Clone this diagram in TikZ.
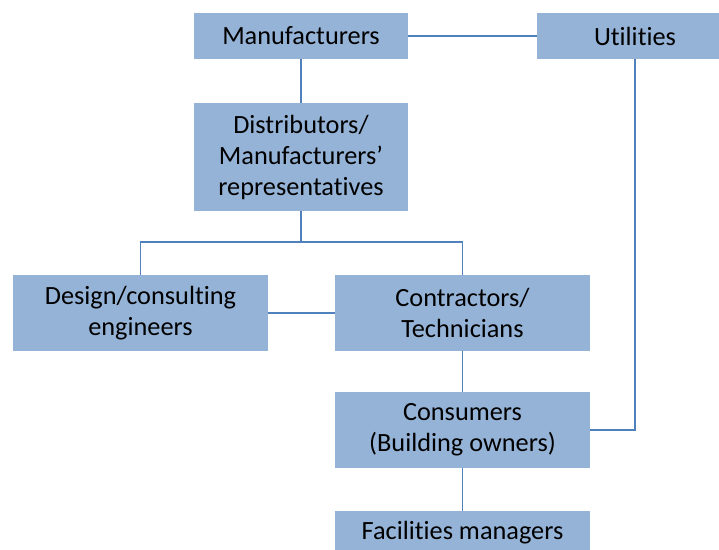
\documentclass[tikz,border=0pt]{standalone}
\usepackage{fontspec}
\setmainfont{Carlito}[Ligatures={NoCommon}]
\begin{document}
\begin{tikzpicture}[x=1pt,y=-1pt,
  box/.style={fill=boxfill, draw=none, inner sep=0pt, align=center,
    font=\fontsize{26.3}{31}\selectfont, text=black},
  link/.style={draw=linkblue, line width=1.6pt}]
\definecolor{boxfill}{HTML}{95B3D7}
\definecolor{linkblue}{HTML}{4F81BD}
\clip (0,0) rectangle (719,549);
\fill[white] (0,0) rectangle (719,549);

% boxes
\node[box, minimum width=214pt, minimum height=46pt] (man) at (301,36) {Manufacturers};
\node[box, minimum width=196pt, minimum height=46pt] (util) at (635,36) {Utilities};
\node[box, minimum width=214pt, minimum height=108pt] (dist) at (301,157)
  {Distributors/\\Manufacturers’\\representatives};
\node[box, minimum width=255pt, minimum height=76pt] (des) at (140.5,313)
  {Design/consulting\\engineers};
\node[box, minimum width=255pt, minimum height=76pt] (con) at (462.5,313)
  {Contractors/\\Technicians};
\node[box, minimum width=255pt, minimum height=76pt] (cons) at (462.5,430)
  {Consumers\\(Building owners)};
\node[box, minimum width=255pt, minimum height=44pt] (fac) at (462.5,533)
  {Facilities managers};

% junction point of the branching connector
\coordinate (split) at (301,242);

% connectors
\draw[link] (man.east) -- (util.west);
\draw[link] (man.south) -- (dist.north);
\draw[link] (dist.south) -- (split);
\draw[link] (des.north) |- (split) -| (con.north);
\draw[link] (des.east) -- (con.west);
\draw[link] (con.south) -- (cons.north);
\draw[link] (util.south) |- (cons.east);
\draw[link] (cons.south) -- (fac.north);
\end{tikzpicture}
\end{document}
